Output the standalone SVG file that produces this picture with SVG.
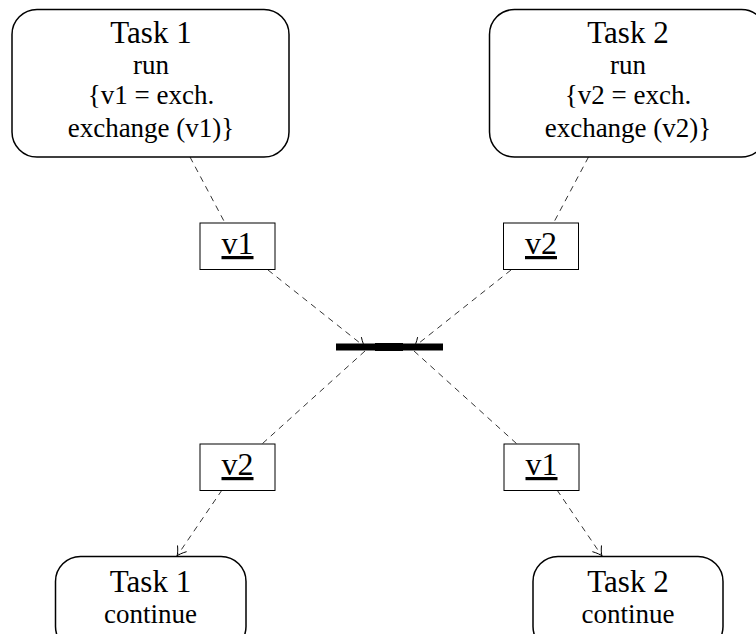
<svg xmlns="http://www.w3.org/2000/svg" width="756" height="634" viewBox="0 0 756 634">
<defs>
<style>
.task{fill:#fff;stroke:#000;stroke-width:1.5}
.lbl{fill:#fff;stroke:#000;stroke-width:1}
text{font-family:"Liberation Serif","Times New Roman",serif;fill:#000;text-anchor:middle}
.title{font-size:31px}
.body{font-size:27px}
.v{font-size:32px;text-decoration:underline}
.c{fill:none;stroke:#000;stroke-width:0.8;stroke-dasharray:6 5}
.arr{marker-end:url(#to)}
</style>
<marker id="to" markerUnits="userSpaceOnUse" viewBox="-11 -7 13 14" refX="0" refY="0" markerWidth="13" markerHeight="14" orient="auto">
<path d="M-9,-5.5 C-5,-2.2 -2,-0.6 0,0 C-2,0.6 -5,2.2 -9,5.5" fill="none" stroke="#000" stroke-width="0.9"/>
</marker>
</defs>
<rect width="756" height="634" fill="#fff"/>
<g id="connectors">
<line class="c" x1="190" y1="157" x2="225" y2="223"/>
<line class="c arr" x1="268" y1="270" x2="365" y2="347"/>
<line class="c" x1="588.5" y1="157" x2="553.5" y2="223"/>
<line class="c arr" x1="511" y1="270" x2="414" y2="347"/>
<line class="c" x1="365" y1="351" x2="262" y2="444"/>
<line class="c" x1="414" y1="351" x2="517" y2="444"/>
<line class="c arr" x1="222" y1="490" x2="177" y2="556"/>
<line class="c arr" x1="557" y1="490" x2="602" y2="556"/>
</g>
<g id="task1-run">
<rect class="task" x="12" y="9.5" width="277" height="147.5" rx="25"/>
<text class="title" x="151" y="43" font-family="Liberation Serif, serif">Task 1</text>
<text class="body" x="151" y="74" font-family="Liberation Serif, serif">run</text>
<text class="body" x="151" y="104" font-family="Liberation Serif, serif">{v1 = exch.</text>
<text class="body" x="151" y="137" font-family="Liberation Serif, serif">exchange (v1)}</text>
</g>
<g id="task2-run">
<rect class="task" x="489.5" y="9.5" width="277" height="147.5" rx="25"/>
<text class="title" x="628" y="43" font-family="Liberation Serif, serif">Task 2</text>
<text class="body" x="628" y="74" font-family="Liberation Serif, serif">run</text>
<text class="body" x="628" y="104" font-family="Liberation Serif, serif">{v2 = exch.</text>
<text class="body" x="628" y="137" font-family="Liberation Serif, serif">exchange (v2)}</text>
</g>
<g id="label-v1-top">
<rect class="lbl" x="200" y="223" width="75" height="46.5"/>
<text class="v" x="237.5" y="254" font-family="Liberation Serif, serif">v1</text>
</g>
<g id="label-v2-top">
<rect class="lbl" x="503.5" y="223" width="75" height="46.5"/>
<text class="v" x="541" y="254" font-family="Liberation Serif, serif">v2</text>
</g>
<g id="bar">
<rect x="336" y="343.5" width="107" height="7" fill="#000"/>
<rect x="375" y="343" width="28" height="8" fill="#000"/>
</g>
<g id="label-v2-bottom">
<rect class="lbl" x="200" y="444" width="75" height="46.5"/>
<text class="v" x="237.5" y="475" font-family="Liberation Serif, serif">v2</text>
</g>
<g id="label-v1-bottom">
<rect class="lbl" x="504" y="444" width="75" height="46.5"/>
<text class="v" x="541.5" y="475" font-family="Liberation Serif, serif">v1</text>
</g>
<g id="task1-continue">
<rect class="task" x="55.5" y="556.5" width="190.5" height="95" rx="25"/>
<text class="title" x="150.5" y="591.5" font-family="Liberation Serif, serif">Task 1</text>
<text class="body" x="150.5" y="623" font-family="Liberation Serif, serif">continue</text>
</g>
<g id="task2-continue">
<rect class="task" x="533" y="556.5" width="190" height="95" rx="25"/>
<text class="title" x="628" y="591.5" font-family="Liberation Serif, serif">Task 2</text>
<text class="body" x="628" y="623" font-family="Liberation Serif, serif">continue</text>
</g>
</svg>
